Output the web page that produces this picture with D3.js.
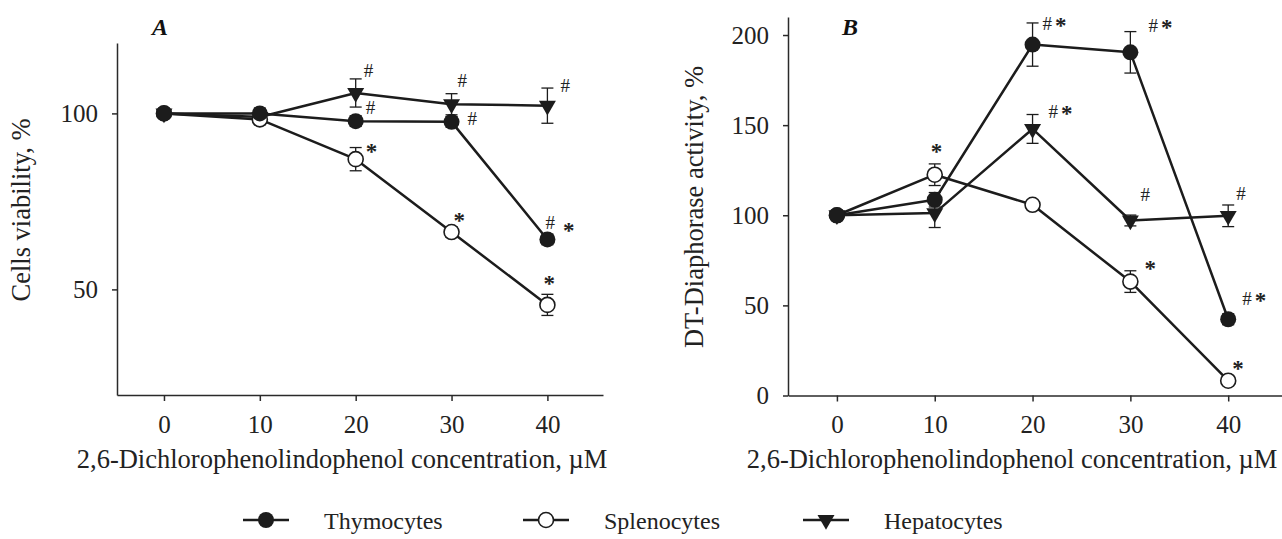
<!DOCTYPE html>
<html>
<head>
<meta charset="utf-8">
<script src="https://cdn.jsdelivr.net/npm/d3@7"></script>
<style>
  body { margin: 0; background: #fff; }
  svg { display: block; font-family: "Liberation Serif", "Times New Roman", serif; }
  .axis path, .axis line { stroke: #2a2a2a; stroke-width: 1.5; }
  .axis text { fill: #222; font-size: 25px; font-family: "Liberation Serif", serif; }
  .title { fill: #222; font-size: 26.5px; }
  .mark { fill: #222; font-size: 19px; }
  .star { font-size: 23px; font-weight: bold; }
</style>
</head>
<body>
<svg width="1282" height="539"></svg>
<script>
const width = 1282;
const height = 539;

/* data */
const conc = [0, 10, 20, 30, 40];

const thyViab = [100, 100, 97.8, 97.6, 64.2];
const thyViabErr = [1, 1.5, 1.5, 1.5, 1.5];
const splViab = [100, 98.3, 87, 66.3, 45.6];
const splViabErr = [1, 1.5, 3.3, 1.5, 3];
const hepViab = [100, 99, 105.8, 102.6, 102.2];
const hepViabErr = [1, 1, 4, 3, 5];

const thyDia = [100, 108.6, 194.7, 190.4, 42.3];
const thyDiaErr = [2, 4, 12, 11.5, 3];
const splDia = [100, 122.5, 105.8, 63.2, 8.2];
const splDiaErr = [2, 6, 2, 6, 2];
const hepDia = [100, 101.2, 147.9, 97.1, 99.7];
const hepDiaErr = [2, 8, 8, 3, 6];

/* significance marks */
const thyMarksA = ['', '', '#', '#', '#*'];
const splMarksA = ['', '', '*', '*', '*'];
const hepMarksA = ['', '', '#', '#', '#'];
const thyMarksB = ['', '', '#*', '#*', '#*'];
const splMarksB = ['', '*', '', '*', '*'];
const hepMarksB = ['', '', '#*', '#', '#'];

const ticksA = [50, 100];
const ticksB = [0, 50, 100, 150, 200];
const seriesNames = ['Thymocytes', 'Splenocytes', 'Hepatocytes'];

/* label offsets from the point: [dx, dy, gap, shift] */
const offA = {
  thy: [null, null, [10, -7], [16, 3], [-2, -10, 8, 9]],
  spl: [null, null, [10, 0], [2, -4], [-4, -14]],
  hep: [null, null, [8, -16], [6, -17], [13, -14]]
};
const offB = {
  thy: [null, null, [10, -15], [18, -20], [14, -14]],
  spl: [null, [-4, -16], null, [14, -6], [4, -5]],
  hep: [null, null, [16, -11], [10, -19], [8, -16]]
};

const svg = d3.select('svg');
svg.append('rect').attr('width', width).attr('height', height).attr('fill', '#fff');

const ink = '#1c1c1c';

function drawMarker(g, kind, x, y) {
  if (kind === 'thy') {
    g.append('circle').attr('cx', x).attr('cy', y).attr('r', 8).attr('fill', ink);
  } else if (kind === 'spl') {
    g.append('circle').attr('cx', x).attr('cy', y).attr('r', 7.5)
      .attr('fill', '#fff').attr('stroke', ink).attr('stroke-width', 1.6);
  } else {
    g.append('path')
      .attr('d', d3.symbol(d3.symbolTriangle, 125)())
      .attr('transform', `translate(${x},${y}) rotate(180)`)
      .attr('fill', ink);
  }
}

function drawPanel(opt) {
  const x = d3.scaleLinear().domain(opt.xDomain).range(opt.xRange);
  const y = d3.scaleLinear().domain(opt.yDomain).range(opt.yRange);
  const g = svg.append('g');

  /* axes */
  g.append('g')
    .classed('axis', true)
    .attr('transform', `translate(0, ${opt.yRange[0]})`)
    .call(d3.axisBottom(x).tickValues(conc).tickSize(6).tickSizeOuter(0).tickPadding(14));

  g.append('g')
    .classed('axis', true)
    .attr('transform', `translate(${opt.xRange[0]}, 0)`)
    .call(d3.axisLeft(y).tickValues(opt.yTicks).tickSize(5).tickSizeOuter(0).tickPadding(14));

  /* titles */
  g.append('text')
    .classed('title', true)
    .attr('x', opt.xTitle[0]).attr('y', opt.xTitle[1])
    .attr('text-anchor', 'middle')
    .text('2,6-Dichlorophenolindophenol concentration, \u00b5M');

  g.append('text')
    .classed('title', true)
    .attr('transform', `translate(${opt.yTitle[0]}, ${opt.yTitle[1]}) rotate(-90)`)
    .attr('text-anchor', 'middle')
    .text(opt.yLabel);

  g.append('text')
    .attr('x', opt.letter[0]).attr('y', opt.letter[1])
    .style('font-size', '24px').style('font-weight', 'bold').style('font-style', 'italic')
    .attr('fill', '#111')
    .text(opt.letterText);

  const line = d3.line().x((d, i) => x(conc[i])).y(d => y(d));

  /* lines */
  opt.series.forEach(s => {
    g.append('path')
      .datum(s.values)
      .attr('d', line)
      .attr('fill', 'none')
      .attr('stroke', ink)
      .attr('stroke-width', 2.5)
      .attr('stroke-linejoin', 'round');
  });

  /* error bars */
  opt.series.forEach(s => {
    s.values.forEach((v, i) => {
      const cx = x(conc[i]);
      const top = y(v + s.err[i]);
      const bot = y(v - s.err[i]);
      const eb = g.append('g').attr('stroke', ink).attr('stroke-width', 1.3);
      eb.append('line').attr('x1', cx).attr('x2', cx).attr('y1', top).attr('y2', bot);
      eb.append('line').attr('x1', cx - 6).attr('x2', cx + 6).attr('y1', top).attr('y2', top);
      eb.append('line').attr('x1', cx - 6).attr('x2', cx + 6).attr('y1', bot).attr('y2', bot);
    });
  });

  /* markers, drawn hepatocytes first so the circles sit on top */
  opt.series.slice().reverse().forEach(s => {
    s.values.forEach((v, i) => drawMarker(g, s.kind, x(conc[i]), y(v)));
  });

  /* significance marks */
  opt.series.forEach(s => {
    s.marks.forEach((m, i) => {
      if (!m) return;
      const o = s.off[i];
      const px = x(conc[i]) + o[0];
      const py = y(s.values[i]) + o[1];
      const t = g.append('text').classed('mark', true).attr('x', px).attr('y', py);
      if (m === '*') {
        t.append('tspan').classed('star', true).text('*');
      } else {
        t.append('tspan').text('#');
        if (m === '#*') {
          t.append('tspan')
            .classed('star', true)
            .attr('dx', o[2] !== undefined ? o[2] : 3)
            .attr('dy', o[3] !== undefined ? o[3] : 3)
            .text('*');
        }
      }
    });
  });
}

drawPanel({
  xDomain: [-4.9, 45.8], xRange: [117, 603],
  yDomain: [20, 120], yRange: [395, 43],
  yTicks: ticksA,
  xTitle: [342, 468], yTitle: [30, 210],
  yLabel: 'Cells viability, %',
  letter: [152, 35], letterText: 'A',
  series: [
    { kind: 'thy', values: thyViab, err: thyViabErr, marks: thyMarksA, off: offA.thy },
    { kind: 'spl', values: splViab, err: splViabErr, marks: splMarksA, off: offA.spl },
    { kind: 'hep', values: hepViab, err: hepViabErr, marks: hepMarksA, off: offA.hep }
  ]
});

drawPanel({
  xDomain: [-5, 45.5], xRange: [788, 1282],
  yDomain: [0, 210], yRange: [395.5, 17],
  yTicks: ticksB,
  xTitle: [1012, 468], yTitle: [703, 207],
  yLabel: 'DT-Diaphorase activity, %',
  letter: [842, 35], letterText: 'B',
  series: [
    { kind: 'thy', values: thyDia, err: thyDiaErr, marks: thyMarksB, off: offB.thy },
    { kind: 'spl', values: splDia, err: splDiaErr, marks: splMarksB, off: offB.spl },
    { kind: 'hep', values: hepDia, err: hepDiaErr, marks: hepMarksB, off: offB.hep }
  ]
});

/* legend */
const kinds = ['thy', 'spl', 'hep'];
const legend = svg.append('g').attr('transform', 'translate(243, 520)');
seriesNames.forEach((name, i) => {
  const item = legend.append('g').attr('transform', `translate(${i * 280}, 0)`);
  item.append('line').attr('x1', 0).attr('x2', 46).attr('y1', 0).attr('y2', 0)
    .attr('stroke', ink).attr('stroke-width', 2.5);
  drawMarker(item, kinds[i], 23, 0);
  item.append('text')
    .attr('x', 81).attr('y', 9)
    .style('font-size', '24px')
    .attr('fill', '#222')
    .text(name);
});
</script>
</body>
</html>
